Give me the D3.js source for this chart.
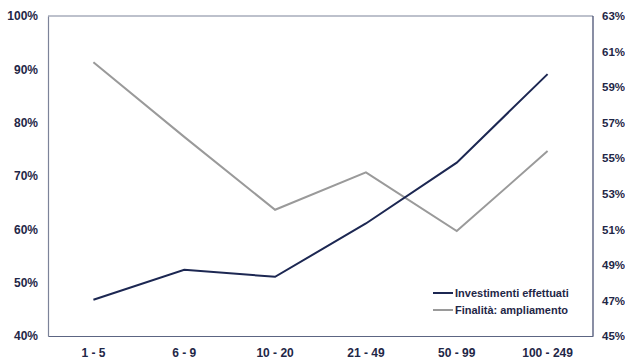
<!DOCTYPE html>
<html>
<head>
<meta charset="utf-8">
<script src="https://cdn.jsdelivr.net/npm/d3@7"></script>
<style>
  html, body { margin: 0; padding: 0; background: #fff; }
  svg text { font-family: "Liberation Sans Narrow", "Arial Narrow", "Liberation Sans", Arial, sans-serif; font-weight: bold; fill: #1f2747; }
</style>
</head>
<body>
<svg id="chart" width="625" height="362"></svg>
<script>
// Size classes (number of employees)
const categories = ["1 - 5", "6 - 9", "10 - 20", "21 - 49", "50 - 99", "100 - 249"];
// Share of firms that invested (left axis)
const investimenti = [46.8, 52.4, 51.1, 61.1, 72.5, 89.1];
// Share of investments aimed at expansion (right axis)
const ampliamento = [60.4, 56.2, 52.1, 54.2, 50.9, 55.4];
// Axis ticks
const leftTicks = [40, 50, 60, 70, 80, 90, 100];
const rightTicks = [45, 47, 49, 51, 53, 55, 57, 59, 61, 63];
const seriesNames = ["Investimenti effettuati", "Finalità: ampliamento"];
const seriesColors = ["#1c2752", "#9a9a9a"];

const svg = d3.select("#chart");
const plot = { left: 48, right: 593, top: 16, bottom: 336 };

const x = d3.scaleBand().domain(categories).range([plot.left, plot.right]);
const yL = d3.scaleLinear().domain([40, 100]).range([plot.bottom, plot.top]);
const yR = d3.scaleLinear().domain([45, 63]).range([plot.bottom, plot.top]);

// Plot frame
svg.append("line").attr("x1", plot.left).attr("x2", plot.right).attr("y1", plot.top).attr("y2", plot.top)
  .attr("stroke", "#7c8399").attr("stroke-width", 1.2);
svg.append("line").attr("x1", plot.right).attr("x2", plot.right).attr("y1", plot.top).attr("y2", plot.bottom)
  .attr("stroke", "#3b4468").attr("stroke-width", 1.2);

// Left axis
const gL = svg.append("g").attr("transform", `translate(${plot.left},0)`)
  .call(d3.axisLeft(yL).tickValues(leftTicks).tickSize(0).tickPadding(10).tickFormat(d => d + "%"));
gL.select(".domain").attr("stroke", "#7c8399").attr("stroke-width", 1.2);
gL.selectAll("text").attr("font-size", 12);

// Right axis
const gR = svg.append("g").attr("transform", `translate(${plot.right},0)`)
  .call(d3.axisRight(yR).tickValues(rightTicks).tickSize(0).tickPadding(9).tickFormat(d => d + "%"));
gR.select(".domain").remove();
gR.selectAll("text").attr("font-size", 11.5);

// Bottom axis
const gX = svg.append("g").attr("transform", `translate(0,${plot.bottom})`)
  .call(d3.axisBottom(x).tickSize(0).tickPadding(12));
gX.select(".domain").attr("stroke", "#5c6582").attr("stroke-width", 1.2);
gX.selectAll("text").attr("font-size", 12);

const cx = d => x(d) + x.bandwidth() / 2;

svg.append("path")
  .datum(ampliamento)
  .attr("fill", "none").attr("stroke", seriesColors[1]).attr("stroke-width", 2)
  .attr("d", d3.line().x((d, i) => cx(categories[i])).y(d => yR(d)));

svg.append("path")
  .datum(investimenti)
  .attr("fill", "none").attr("stroke", seriesColors[0]).attr("stroke-width", 2)
  .attr("d", d3.line().x((d, i) => cx(categories[i])).y(d => yL(d)));

// Legend
const lg = svg.append("g").attr("transform", "translate(433,293)");
seriesNames.forEach((name, i) => {
  const row = lg.append("g").attr("transform", `translate(0,${i * 17})`);
  row.append("line").attr("x1", 0).attr("x2", 20).attr("y1", 0).attr("y2", 0)
    .attr("stroke", seriesColors[i]).attr("stroke-width", 2);
  row.append("text").attr("x", 22).attr("y", 0).attr("dy", "0.35em")
    .attr("font-size", 11).text(name);
});
</script>
</body>
</html>
